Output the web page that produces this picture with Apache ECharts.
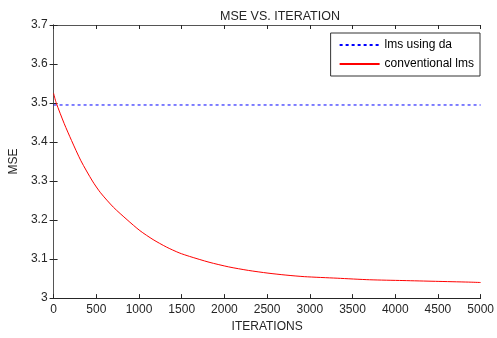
<!DOCTYPE html>
<html><head><meta charset="utf-8">
<script src="https://cdn.jsdelivr.net/npm/echarts@6/dist/echarts.min.js"></script>
<style>html,body{margin:0;padding:0;background:#fff}#c{width:497px;height:338px}</style>
</head><body><div id="c"></div>
<script>
var iterations = [0, 30, 125, 210, 320, 455, 550, 700, 860, 1010, 1165, 1320, 1470, 1590, 1820, 2050, 2280, 2510, 2720, 2935, 3320, 3700, 4090, 4470, 4860, 5000];
var conventionalLms = [3.525, 3.501, 3.447, 3.404, 3.352, 3.300, 3.270, 3.233, 3.201, 3.173, 3.150, 3.131, 3.116, 3.107, 3.092, 3.080, 3.071, 3.064, 3.059, 3.055, 3.051, 3.047, 3.045, 3.043, 3.041, 3.040];
var lmsDaX = [0, 5000];
var lmsDa = [3.495, 3.495];
var xTicks = [0, 500, 1000, 1500, 2000, 2500, 3000, 3500, 4000, 4500, 5000];
var yTicks = [3, 3.1, 3.2, 3.3, 3.4, 3.5, 3.6, 3.7];

var font = 'Liberation Sans, Arial, sans-serif';
var txt = '#262626';
var chart = echarts.init(document.getElementById('c'));
function pairs(xs, ys){ return xs.map(function(x,i){return [x, ys[i]];}); }
var tickStyle = {show:true, inside:true, length:4, lineStyle:{color:'#262626'}};
chart.setOption({
  animation:false,
  backgroundColor:'#fff',
  title:{text:'MSE VS. ITERATION', left:215, top:5, textStyle:{fontFamily:font, fontSize:12.5, fontWeight:'normal', color:txt}},
  legend:{
    right:17, top:33, orient:'vertical', itemWidth:40, itemHeight:10, itemGap:7,
    backgroundColor:'#fff', borderColor:'#333', borderWidth:1, padding:[6,6,6,8],
    itemStyle:{opacity:0},
    textStyle:{fontFamily:font, fontSize:12, color:'#000'},
    data:['lms using da','conventional lms']
  },
  grid:{left:52, right:11, top:25, bottom:36, containLabel:false},
  xAxis:[{
    type:'value', min:0, max:5000, interval:500,
    name:'ITERATIONS', nameLocation:'middle', nameGap:20,
    nameTextStyle:{fontFamily:font, fontSize:12, color:txt},
    axisLine:{show:true, lineStyle:{color:'#262626'}},
    axisTick:tickStyle, splitLine:{show:false},
    axisLabel:{fontFamily:font, fontSize:12, color:txt, margin:6,
      formatter:function(v){ return xTicks.indexOf(v) >= 0 ? String(v) : ''; }}
  },{
    type:'value', min:0, max:5000, interval:500, position:'top',
    axisLine:{show:true, lineStyle:{color:'#555'}},
    axisTick:tickStyle, axisLabel:{show:false}, splitLine:{show:false}
  }],
  yAxis:[{
    type:'value', min:3, max:3.7, interval:0.1,
    name:'MSE', nameLocation:'middle', nameGap:31,
    nameTextStyle:{fontFamily:font, fontSize:12, color:txt},
    axisLine:{show:true, lineStyle:{color:'#262626'}},
    axisTick:tickStyle, splitLine:{show:false},
    axisLabel:{fontFamily:font, fontSize:12, color:txt, margin:6,
      formatter:function(v){ var r = Math.round(v*10)/10; return yTicks.indexOf(r) >= 0 ? String(r) : ''; }}
  },{
    type:'value', min:3, max:3.7, interval:0.1, position:'right',
    axisLine:{show:true, lineStyle:{color:'#555'}},
    axisTick:tickStyle, axisLabel:{show:false}, splitLine:{show:false}
  }],
  series:[{
    name:'lms using da', type:'line', symbol:'none',
    data:pairs(lmsDaX, lmsDa),
    lineStyle:{color:'#0000ff', width:1, type:[3,3]}, itemStyle:{color:'#0000ff'}
  },{
    name:'conventional lms', type:'line', symbol:'none', smooth:0.25,
    data:pairs(iterations, conventionalLms),
    lineStyle:{color:'#ff0000', width:1}, itemStyle:{color:'#ff0000'}
  }]
});
</script></body></html>
